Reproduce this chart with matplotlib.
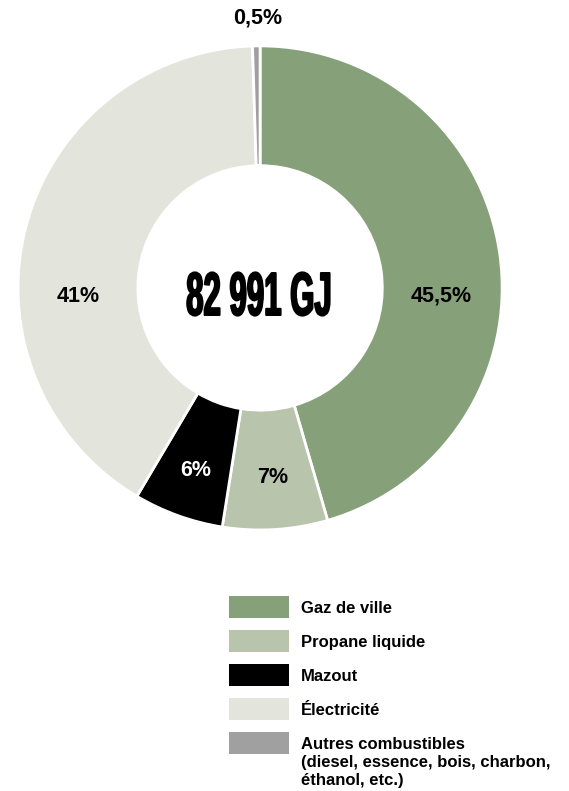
import matplotlib.pyplot as plt
import matplotlib.patheffects as pe
from matplotlib.patches import Rectangle
from matplotlib.transforms import Affine2D

categories = ['Gaz de ville', 'Propane liquide', 'Mazout', 'Électricité',
              'Autres combustibles\n(diesel, essence, bois, charbon,\néthanol, etc.)']
values = [45.5, 7, 6, 41, 0.5]
labels = ['45,5%', '7%', '6%', '41%', '0,5%']
colors = ['#86a07a', '#b8c4ac', '#000000', '#e3e5dc', '#a0a0a0']
label_colors = ['black', 'black', 'white', 'black', 'black']
# positions des etiquettes (unites du rayon)
label_x = [0.75, 0.05, -0.265, -0.75, -0.01]
label_y = [-0.035, -0.785, -0.756, -0.035, 1.116]
total_text = '82 991 GJ'

plt.rcParams['font.family'] = ['Liberation Sans', 'DejaVu Sans']


class Squeeze(pe.AbstractPathEffect):
    # texte etroit : compression horizontale autour du centre du texte
    def __init__(self, sx, lw):
        super().__init__()
        self.sx = sx
        self.lw = lw

    def draw_path(self, renderer, gc, tpath, affine, rgbFace=None):
        v = tpath.vertices
        cx = (v[:, 0].min() + v[:, 0].max()) / 2
        t = Affine2D().translate(-cx, 0).scale(self.sx, 1).translate(cx, 0) + affine
        gc0 = renderer.new_gc()
        gc0.copy_properties(gc)
        gc0.set_linewidth(self.lw)
        gc0.set_foreground(rgbFace)
        renderer.draw_path(gc0, tpath, t, rgbFace)
        gc0.restore()


fig = plt.figure(figsize=(5.69, 7.91), dpi=100)
ax = fig.add_axes([0.0316, 0.330, 0.851, 0.612])

wedges, _ = ax.pie(values, colors=colors, startangle=90, counterclock=False,
                   radius=1.0, wedgeprops=dict(width=0.495, edgecolor='white', linewidth=2))
ax.set_xlim(-1, 1)
ax.set_ylim(-1, 1)
ax.set_aspect('equal')

for lab, c, x, y in zip(labels, label_colors, label_x, label_y):
    ax.text(x, y, lab, ha='center', va='center', fontsize=15.5, fontweight='bold', color=c)

ax.text(0, -0.112, total_text, ha='center', va='baseline', fontsize=44,
        fontweight='bold', path_effects=[Squeeze(0.51, 1.4)])

# legende
lax = fig.add_axes([0.40, 0.0, 0.60, 0.26])
lax.set_xlim(0.40 * 569, 569)
lax.set_ylim(791, 791 - 0.26 * 791)
lax.axis('off')
for i, (cat, col) in enumerate(zip(categories, colors)):
    yc = 607 + 34 * i
    lax.add_patch(Rectangle((229, yc - 11), 60, 22, facecolor=col, edgecolor='none'))
    for j, line in enumerate(cat.split('\n')):
        lax.text(301, yc + 6 + 18 * j, line, ha='left', va='baseline', fontsize=12,
                 fontweight='bold')

fig.savefig('out.png', dpi=100)
